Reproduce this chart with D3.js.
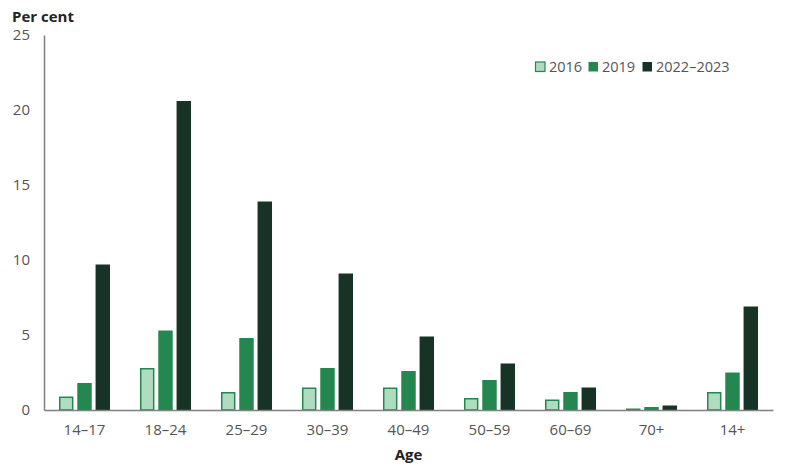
<!DOCTYPE html>
<html>
<head>
<meta charset="utf-8">
<script src="https://cdn.jsdelivr.net/npm/d3@7"></script>
<style>
  body { margin: 0; background: #fff; }
  svg { display: block; font-family: "Open Sans", sans-serif; }
</style>
</head>
<body>
<svg id="chart" width="800" height="475"></svg>
<script>
const categories = ["14–17", "18–24", "25–29", "30–39", "40–49", "50–59", "60–69", "70+", "14+"];
const seriesNames = ["2016", "2019", "2022–2023"];
const values2016 = [0.9, 2.8, 1.2, 1.5, 1.5, 0.8, 0.7, 0.1, 1.2];
const values2019 = [1.8, 5.3, 4.8, 2.8, 2.6, 2.0, 1.2, 0.2, 2.5];
const values2022 = [9.7, 20.6, 13.9, 9.1, 4.9, 3.1, 1.5, 0.3, 6.9];
const yTicks = [0, 5, 10, 15, 20, 25];
const fills = ["#afdbbf", "#24874f", "#173325"];
const strokes = ["#248750", "none", "none"];

(function () {
const seriesValues = [values2016, values2019, values2022];
const svg = d3.select("#chart");
const mLeft = 44, mRight = 773, mTop = 35, mBottom = 410;

const x0 = d3.scaleBand().domain(categories).range([mLeft, mRight])
  .paddingInner(0.37).paddingOuter(0.185);
const x1 = d3.scaleBand().domain(seriesNames).range([0, x0.bandwidth()])
  .paddingInner(0.21).paddingOuter(0);
const y = d3.scaleLinear().domain([0, 25]).range([mBottom, mTop]);

// bars
const groups = svg.append("g").selectAll("g")
  .data(categories).join("g")
  .attr("transform", d => `translate(${x0(d)},0)`);
groups.selectAll("rect")
  .data((c, i) => seriesNames.map((s, k) => ({ s, k, v: seriesValues[k][i] })))
  .join("rect")
  .attr("x", d => x1(d.s) + (d.k === 0 ? 0.75 : 0))
  .attr("width", d => x1.bandwidth() - (d.k === 0 ? 1.5 : 0))
  .attr("y", d => y(d.v) + (d.k === 0 ? 0.75 : 0))
  .attr("height", d => Math.max(0, mBottom - y(d.v) - (d.k === 0 ? 0.75 : 0)))
  .attr("fill", d => fills[d.k])
  .attr("stroke", d => strokes[d.k])
  .attr("stroke-width", 1.5);

// y axis
const yAxis = svg.append("g").attr("transform", `translate(${mLeft},0)`)
  .call(d3.axisLeft(y).tickValues(yTicks).tickSize(0).tickPadding(14).tickFormat(d3.format("d")));
yAxis.select(".domain").attr("stroke", "#808080").attr("stroke-width", 1.5);
yAxis.selectAll("text").attr("fill", "#555").style("font-size", "15px").style("font-family", "'Open Sans', sans-serif");

// x axis
const xAxis = svg.append("g").attr("transform", `translate(0,${mBottom})`)
  .call(d3.axisBottom(x0).tickSize(0).tickPadding(14));
xAxis.select(".domain").attr("stroke", "#808080").attr("stroke-width", 1.5);
xAxis.selectAll("text").attr("fill", "#555").style("font-size", "15px").style("font-family", "'Open Sans', sans-serif");

// titles
svg.append("text").attr("x", 12).attr("y", 22).text("Per cent")
  .attr("font-weight", "bold").attr("font-size", 15).attr("fill", "#222");
svg.append("text").attr("x", (mLeft + mRight) / 2).attr("y", 460).attr("text-anchor", "middle").text("Age")
  .attr("font-weight", "bold").attr("font-size", 15).attr("fill", "#222");

// legend
const legendX = [535, 588, 642];
const lg = svg.append("g").selectAll("g").data(seriesNames).join("g")
  .attr("transform", (d, i) => `translate(${legendX[i]},61)`);
lg.append("rect").attr("x", 0.5).attr("y", 1).attr("width", 9.5).attr("height", 9.5)
  .attr("fill", (d, i) => fills[i]).attr("stroke", (d, i) => i === 0 ? strokes[0] : "none").attr("stroke-width", 1.2);
lg.append("text").attr("x", 14).attr("y", 11).text(d => d)
  .attr("font-size", 14.5).attr("fill", "#555");
})();
</script>
</body>
</html>
